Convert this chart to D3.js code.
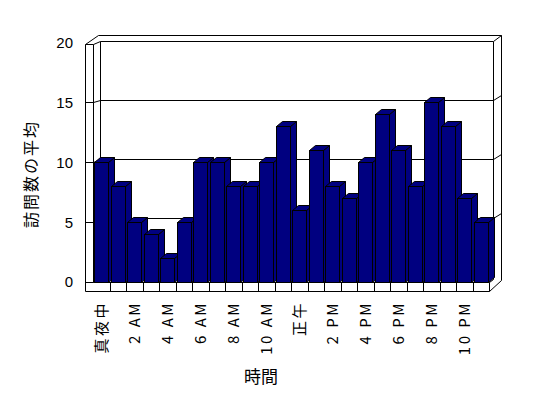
<!DOCTYPE html>
<html><head><meta charset="utf-8">
<script src="https://cdn.jsdelivr.net/npm/d3@7/dist/d3.min.js"></script>
<style>body{margin:0;background:#fff}svg{display:block}</style>
</head><body><svg id="c" width="548" height="398"></svg>
<script>
const categories = ["真夜中","1 AM","2 AM","3 AM","4 AM","5 AM","6 AM","7 AM","8 AM","9 AM","10 AM","11 AM",
  "正午","1 PM","2 PM","3 PM","4 PM","5 PM","6 PM","7 PM","8 PM","9 PM","10 PM","11 PM"];
const values = [10,8,5,4,2,5,10,10,8,8,10,13,6,11,8,7,10,14,11,8,15,13,7,5];
const yTicks = [0,5,10,15,20];
const yTitle = "訪問数の平均";
const xTitle = "時間";

const svg = d3.select("#c");
const x = d3.scaleBand().domain(categories).range([93, 489]);
const yF = d3.scaleLinear().domain([0, 20]).range([282, 42.5]);
const yB = d3.scaleLinear().domain([0, 20]).range([277, 40.5]);
const frontL = 85, innerL = 93, backL = 100, backR = 493, outerR = 501, outerTop = 34.5, floorBack = 279, floorBot = 291;
const dx = 6, dy = -5;
const p = v => Math.round(v) + 0.5;

const g = svg.append("g").attr("fill", "none").attr("stroke", "#000").attr("stroke-width", 1);
function line(x1, y1, x2, y2) {
  g.append("line").attr("x1", p(x1)).attr("y1", p(y1)).attr("x2", p(x2)).attr("y2", p(y2));
}

// back wall
line(backL, yB(20), backR, yB(20));
line(backL, yB(20), backL, floorBack);
line(backR, yB(20), backR, floorBack);
line(98, outerTop, outerR, outerTop);
line(backR, yB(20), outerR, outerTop);
line(outerR, outerTop, outerR, 280);
// gridlines
yTicks.filter(v => v > 0 && v < 20).forEach(v => {
  line(backL, yB(v), backR, yB(v));
  line(backR, yB(v), outerR, yB(v) - 5);
});
// left wall
const wallTop = yF(20) + 1.5;
line(frontL, wallTop, frontL, floorBot);
line(innerL, wallTop, innerL, yF(0));
line(frontL, wallTop, innerL, wallTop);
line(frontL, wallTop, 98, outerTop);
line(innerL, wallTop, backL, yB(20));
yTicks.filter(v => v < 20).forEach(v => {
  line(frontL, yF(v), innerL, yF(v));
  line(innerL, yF(v), backL, yB(v));
});
// floor
line(frontL, floorBot, x.range()[1], floorBot);
line(innerL, yF(0), x.range()[1], yF(0));
line(x.range()[1], yF(0), x.range()[1], floorBot);
line(x.range()[1], floorBot, outerR, 280);
line(x.range()[1], yF(0), backR, floorBack);
categories.slice(1).forEach(c => line(x(c), yF(0), x(c), floorBot));

// bars
const bw = 14;
const bars = svg.append("g").attr("fill", "#000080").attr("stroke", "#000").attr("stroke-width", 1).attr("stroke-linejoin", "miter");
categories.forEach((c, i) => {
  const x0 = Math.round(x(c) + 1) + 0.5, x1 = x0 + bw;
  const yt = Math.round(yF(values[i])) + 0.5, yb = Math.round(yF(0)) + 0.5;
  bars.append("polygon").attr("points", [[x1, yb], [x1, yt], [x1 + dx, yt + dy], [x1 + dx, yb + dy]].join(" "));
  bars.append("polygon").attr("points", [[x0, yt], [x0 + dx, yt + dy], [x1 + dx, yt + dy], [x1, yt]].join(" "));
  bars.append("rect").attr("x", x0).attr("y", yt).attr("width", bw).attr("height", yb - yt);
});

// y tick labels
svg.append("g").selectAll("text").data(yTicks).join("text")
  .attr("x", 73).attr("y", d => yF(d)).attr("dy", "0.36em")
  .attr("text-anchor", "end").attr("font-family", "'Liberation Sans', sans-serif").attr("font-size", 15)
  .text(d => d);

// category labels
svg.append("g").selectAll("text").data(categories.filter((c, i) => i % 2 === 0)).join("text")
  .attr("transform", d => `translate(${x(d) + x.bandwidth() / 2 + 6},301) rotate(-90)`)
  .attr("text-anchor", "end").attr("font-family", "'Noto Sans CJK JP', sans-serif").attr("font-size", 15)
  .attr("letter-spacing", 2.5)
  .text(d => d);

// axis titles
svg.append("text").attr("transform", "translate(37,174) rotate(-90)").attr("text-anchor", "middle")
  .attr("font-family", "'Noto Sans CJK JP', sans-serif").attr("font-size", 16).attr("letter-spacing", 2)
  .text(yTitle);
svg.append("text").attr("x", 261).attr("y", 383).attr("text-anchor", "middle")
  .attr("font-family", "'Noto Sans CJK JP', sans-serif").attr("font-size", 17)
  .text(xTitle);
</script></body></html>
